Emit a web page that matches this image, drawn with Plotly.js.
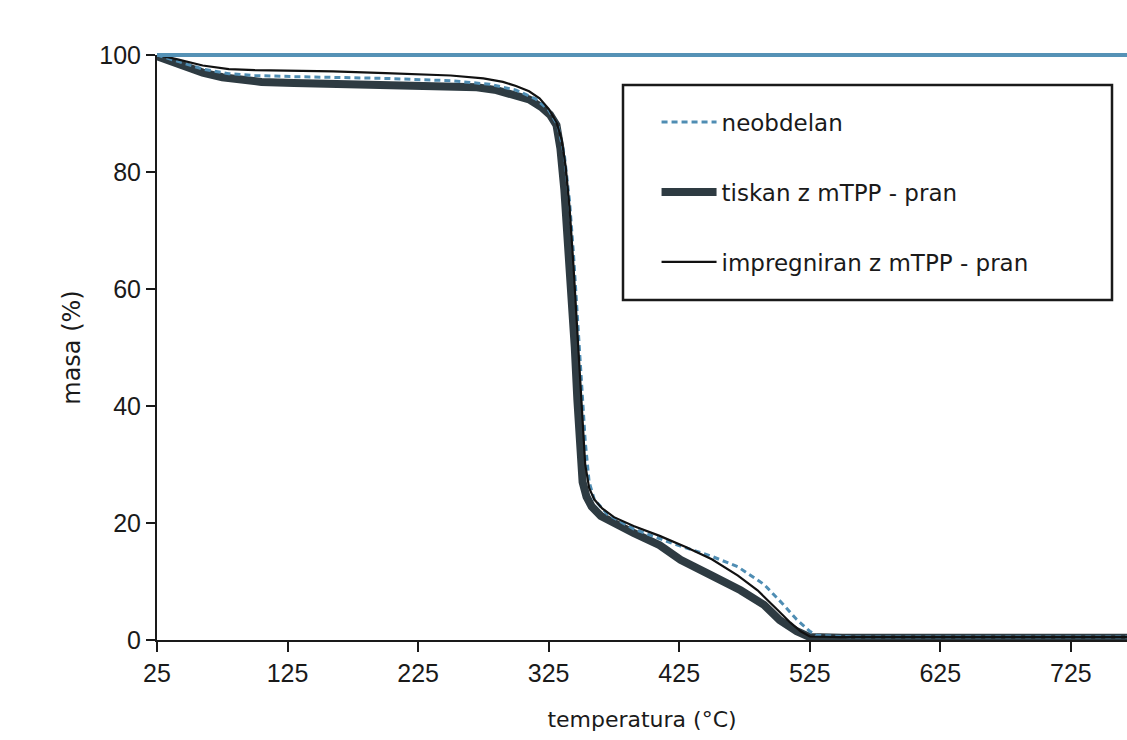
<!DOCTYPE html>
<html>
<head>
<meta charset="utf-8">
<script src="https://cdn.plot.ly/plotly-3.0.1.min.js"></script>
<style>html,body{margin:0;padding:0;background:#fff;}#chart{width:1127px;height:740px;}</style>
</head>
<body>
<div id="chart"></div>
<script>
// --- data ---
const seriesNames = ["neobdelan", "tiskan z mTPP - pran", "impregniran z mTPP - pran"];

const tNeobdelan = [25, 40, 60, 80, 100, 130, 160, 200, 250, 280, 300, 315, 325, 332, 337, 341, 344, 347, 350, 353, 356, 360, 370, 390, 420, 450, 470, 490, 505, 515, 525, 530, 560, 768];
const mNeobdelan = [100, 99, 97.6, 96.8, 96.5, 96.3, 96.2, 96, 95.6, 95, 94, 92.5, 90.6, 88, 83, 75, 66, 55, 44, 34, 27, 24, 21.5, 19, 16.5, 14.3, 12.5, 9.5, 6, 3.5, 1.5, 0.8, 0.5, 0.5];

const tTiskan = [25, 35, 45, 60, 75, 90, 105, 130, 160, 190, 220, 250, 270, 285, 300, 310, 320, 326, 331, 334, 337, 340, 343, 345, 347, 349, 351, 354, 358, 365, 372, 390, 410, 426, 450, 472, 490, 502, 515, 525, 550, 600, 650, 700, 768];
const mTiskan = [99.8, 99, 98, 97, 96.2, 95.7, 95.4, 95.2, 95.1, 95.0, 94.9, 94.8, 94.5, 94.0, 93.2, 92.4, 91, 89.8, 88, 84, 77, 68, 58, 50, 41, 33, 27, 24.5, 22.8, 21.2, 20.3, 18.3, 16.2, 13.7, 11, 8.5, 6, 3.4, 1.5, 0.5, 0.4, 0.4, 0.4, 0.4, 0.4];

const tImpregniran = [25, 40, 60, 80, 100, 130, 160, 200, 250, 275, 290, 300, 310, 318, 325, 331, 335, 338, 341, 344, 347, 349, 351, 353, 356, 360, 366, 375, 390, 410, 430, 450, 470, 485, 500, 510, 518, 525, 550, 600, 700, 768];
const mImpregniran = [100, 99.3, 98.2, 97.6, 97.4, 97.3, 97.2, 96.9, 96.5, 96.0, 95.4, 94.7, 93.8, 92.6, 90.8, 88.5, 85.5, 81, 74, 64, 53, 45, 37, 30, 26, 24, 22.5, 21, 19.5, 17.8, 15.9, 13.8, 11, 8.5, 5.2, 3, 1.5, 0.6, 0.5, 0.5, 0.5, 0.5];

const xTicks = [25, 125, 225, 325, 425, 525, 625, 725];
const yTicks = [0, 20, 40, 60, 80, 100];

const FONT = "Liberation Sans, Arial, sans-serif";
const FONT2 = "DejaVu Sans, sans-serif";

const traces = [
  {x: tTiskan, y: mTiskan, name: seriesNames[1], mode: "lines", legendrank: 2,
   line: {color: "#2e3b42", width: 8}},
  {x: tNeobdelan, y: mNeobdelan, name: seriesNames[0], mode: "lines", legendrank: 1,
   line: {color: "#4f8db3", width: 3, dash: "6px,4px"}},
  {x: tImpregniran, y: mImpregniran, name: seriesNames[2], mode: "lines", legendrank: 3,
   line: {color: "#111111", width: 2.2}}
].map((t, i) => Object.assign(t, {legendgroup: "g" + i}));

const layout = {
  width: 1127, height: 740,
  margin: {l: 157, r: 0, t: 55, b: 100},
  paper_bgcolor: "#ffffff", plot_bgcolor: "#ffffff",
  showlegend: true,
  font: {family: FONT, color: "#1a1a1a"},
  xaxis: {
    range: [25, 768], tickvals: xTicks, ticktext: xTicks.map(String),
    showgrid: false, zeroline: false, showline: true, linecolor: "#1a1a1a", linewidth: 2,
    ticks: "outside", ticklen: 10, tickwidth: 2, tickcolor: "#1a1a1a",
    tickfont: {family: FONT, size: 25, color: "#1a1a1a"},
    title: {text: "temperatura (°C)", font: {family: FONT2, size: 22, color: "#1a1a1a"}, standoff: 26}
  },
  yaxis: {
    range: [0, 100], tickvals: yTicks, ticktext: yTicks.map(String),
    showgrid: false, zeroline: false, showline: true, linecolor: "#1a1a1a", linewidth: 2,
    ticks: "outside", ticklen: 9, tickwidth: 2, tickcolor: "#1a1a1a",
    tickfont: {family: FONT, size: 25, color: "#1a1a1a"},
    title: {text: "masa (%)", font: {family: FONT2, size: 24, color: "#1a1a1a"}, standoff: 12}
  },
  legend: {
    x: 0.515, y: 0.922, xanchor: "left", yanchor: "top",
    bgcolor: "rgba(0,0,0,0)", borderwidth: 0,
    font: {family: FONT2, size: 23, color: "#1a1a1a"},
    traceorder: "grouped", tracegroupgap: 37, itemwidth: 55
  },
  shapes: [
    {type: "line", xref: "paper", yref: "paper", x0: 0, x1: 1, y0: 1, y1: 1,
     line: {color: "#5592b6", width: 4}},
    {type: "rect", xref: "paper", yref: "paper",
     x0: (623 - 157) / 970, x1: (1112 - 157) / 970,
     y0: (640 - 300) / 585, y1: (640 - 85) / 585,
     line: {color: "#1a1a1a", width: 2.5}, fillcolor: "rgba(0,0,0,0)"}
  ]
};

Plotly.newPlot("chart", traces, layout, {displayModeBar: false, staticPlot: true});
</script>
</body>
</html>
